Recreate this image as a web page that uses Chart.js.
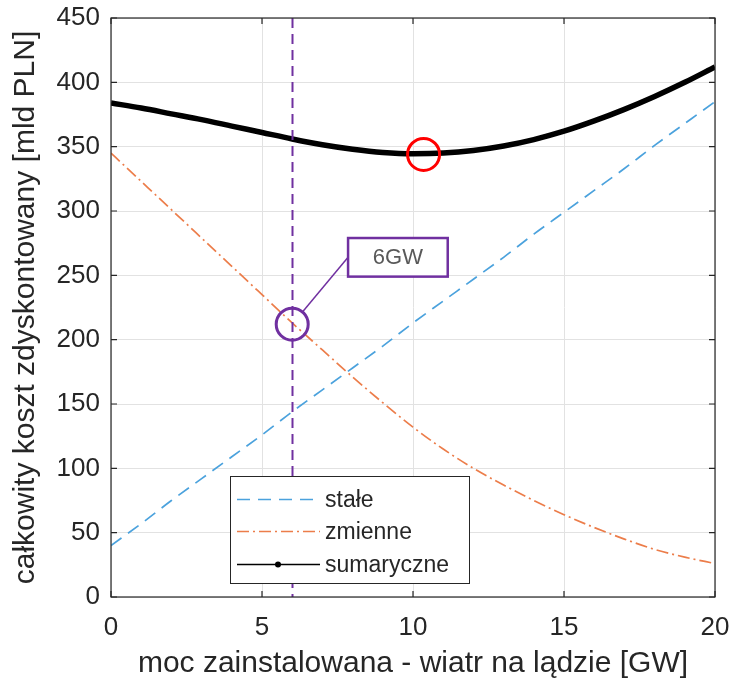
<!DOCTYPE html>
<html><head><meta charset="utf-8">
<script src="https://cdn.jsdelivr.net/npm/chart.js@4/dist/chart.umd.min.js"></script>
<style>html,body{margin:0;padding:0;background:#fff;}#wrap{width:732px;height:682px;position:relative;}</style>
</head><body><div id="wrap"><canvas id="c" width="732" height="682"></canvas></div>
<script>
// ---- data ----
const xValues = [0,1,2,3,4,5,6,7,8,9,10,11,12,13,14,15,16,17,18,19,20];
const xTicks = [0,5,10,15,20];
const yTicks = [0,50,100,150,200,250,300,350,400,450];
const staleValues = [40,57,75,92,109,126,144,161,178,195,213,230,247,264,282,299,316,333,351,368,385];
const zmienneValues = [345,323,301,279,257,235,213,192,171,151,132,115,100,87,75,64,54,45,37,31,26];
const sumaryczneValues = [384,380,375.5,371,366,361,356,351.5,348,345.5,344.5,345,347,350.5,355.5,362,370,379,389,400,412];
const seriesLabels = ['stałe','zmienne','sumaryczne'];
const xTitle = 'moc zainstalowana - wiatr na lądzie [GW]';
const yTitle = 'całkowity koszt zdyskontowany [mld PLN]';
const selectedCapacity = 6;
const selectedPoint = [6, 212];
const selectedLabel = '6GW';
const calloutBox = [7.85, 11.15, 249, 279]; // x0, x1, y0, y1 in data units
const minimumPoint = [10.35, 344];

const FONT = "'Liberation Sans', Arial, sans-serif";
const TXT = '#262626';
const styles = [
  {color:'#4ba2dd', dash:[13,8], width:1.7},
  {color:'#ec7d4a', dash:[12,4,2,4], width:1.7},
  {color:'#000000', dash:[], width:5.5}
];
const seriesValues = [staleValues, zmienneValues, sumaryczneValues];

const datasets = seriesValues.map((vals,i)=>({
  label: seriesLabels[i],
  data: xValues.map((x,k)=>({x:x,y:vals[k]})),
  borderColor: styles[i].color,
  borderDash: styles[i].dash,
  borderWidth: styles[i].width,
  pointRadius: 0,
  fill:false,
  cubicInterpolationMode:'monotone',
  order: 3-i
}));

const overlay = {
  id:'overlay',
  afterDatasetsDraw(chart){
    const ctx = chart.ctx, xs = chart.scales.x, ys = chart.scales.y, a = chart.chartArea;
    ctx.save();
    ctx.strokeStyle = '#7030a0'; ctx.lineWidth = 2; ctx.setLineDash([10,6]);
    const vx = Math.round(xs.getPixelForValue(selectedCapacity))+0.5;
    ctx.beginPath(); ctx.moveTo(vx,a.top); ctx.lineTo(vx,a.bottom); ctx.stroke();
    ctx.setLineDash([]);
    // legend
    const lx0 = a.left+119, ly0 = a.bottom-121, lw = 239, lh = 107;
    ctx.fillStyle = '#fff'; ctx.fillRect(lx0,ly0,lw,lh);
    ctx.strokeStyle = '#262626'; ctx.lineWidth = 1;
    ctx.strokeRect(lx0+0.5,ly0+0.5,lw,lh);
    const rowsY = [23,55,88];
    ctx.font = '23px '+FONT; ctx.textBaseline='middle'; ctx.textAlign='left';
    seriesLabels.forEach((lab,i)=>{
      const y = ly0+rowsY[i]+0.5;
      ctx.strokeStyle = styles[i].color; ctx.lineWidth = i===2?1.5:1.6;
      ctx.setLineDash(styles[i].dash);
      ctx.beginPath(); ctx.moveTo(lx0+7,y); ctx.lineTo(lx0+90,y); ctx.stroke();
      ctx.setLineDash([]);
      if(i===2){ ctx.fillStyle='#000'; ctx.beginPath(); ctx.arc(lx0+48,y,3,0,Math.PI*2); ctx.fill(); }
      ctx.fillStyle = TXT; ctx.fillText(lab, lx0+95, y+1);
    });
    // selected point circle
    const cx = xs.getPixelForValue(selectedPoint[0]), cy = ys.getPixelForValue(selectedPoint[1]);
    const r = 16;
    ctx.strokeStyle = '#7030a0'; ctx.lineWidth = 3;
    ctx.beginPath(); ctx.arc(cx,cy,r,0,Math.PI*2); ctx.stroke();
    // callout box
    const bx0 = xs.getPixelForValue(calloutBox[0]), bx1 = xs.getPixelForValue(calloutBox[1]);
    const by0 = ys.getPixelForValue(calloutBox[3]), by1 = ys.getPixelForValue(calloutBox[2]);
    const ax = bx0, ay = (by0+by1)/2;
    const ang = Math.atan2(ay-cy, ax-cx);
    ctx.lineWidth = 1.5;
    ctx.beginPath(); ctx.moveTo(ax,ay); ctx.lineTo(cx+Math.cos(ang)*r, cy+Math.sin(ang)*r); ctx.stroke();
    ctx.fillStyle='#fff'; ctx.fillRect(bx0,by0,bx1-bx0,by1-by0);
    ctx.lineWidth = 2.5; ctx.strokeRect(bx0,by0,bx1-bx0,by1-by0);
    ctx.fillStyle = '#595959'; ctx.font = '22px '+FONT; ctx.textAlign='center'; ctx.textBaseline='middle';
    ctx.fillText(selectedLabel, (bx0+bx1)/2, (by0+by1)/2+1);
    // minimum circle
    ctx.strokeStyle = '#ff0000'; ctx.lineWidth = 3;
    ctx.beginPath(); ctx.arc(xs.getPixelForValue(minimumPoint[0]), ys.getPixelForValue(minimumPoint[1]), 16, 0, Math.PI*2); ctx.stroke();
    // axes box + inward ticks
    ctx.strokeStyle = '#262626'; ctx.lineWidth = 1.2;
    ctx.strokeRect(a.left, a.top, a.right-a.left, a.bottom-a.top);
    ctx.beginPath();
    xTicks.forEach(t=>{ const p = xs.getPixelForValue(t);
      ctx.moveTo(p,a.bottom); ctx.lineTo(p,a.bottom-6); ctx.moveTo(p,a.top); ctx.lineTo(p,a.top+6); });
    yTicks.forEach(t=>{ const p = ys.getPixelForValue(t);
      ctx.moveTo(a.left,p); ctx.lineTo(a.left+6,p); ctx.moveTo(a.right,p); ctx.lineTo(a.right-6,p); });
    ctx.stroke();
    ctx.restore();
  }
};

function noPad(s){ s.paddingTop=0; s.paddingBottom=0; s.paddingLeft=0; s.paddingRight=0; }

new Chart(document.getElementById('c'), {
  type:'line',
  data:{datasets},
  options:{
    responsive:false, animation:false,
    layout:{padding:{top:18,right:17,bottom:0,left:0}, autoPadding:false},
    plugins:{legend:{display:false}, tooltip:{enabled:false}},
    scales:{
      x:{type:'linear', min:0, max:20,
        afterBuildTicks(s){ s.ticks = xTicks.map(v=>({value:v})); },
        afterFit(s){ s.height = 85; noPad(s); },
        grid:{color:'#e2e2e2', lineWidth:1, drawTicks:false},
        border:{display:false},
        ticks:{color:TXT, font:{family:FONT,size:26}, padding:15, maxRotation:0, autoSkip:false},
        title:{display:true, text:xTitle, color:TXT, font:{family:FONT,size:30}, padding:{top:0,bottom:0}}
      },
      y:{type:'linear', min:0, max:450,
        afterBuildTicks(s){ s.ticks = yTicks.map(v=>({value:v})); },
        afterFit(s){ s.width = 111; noPad(s); },
        grid:{color:'#e2e2e2', lineWidth:1, drawTicks:false},
        border:{display:false},
        ticks:{color:TXT, font:{family:FONT,size:26}, padding:11, autoSkip:false},
        title:{display:true, text:yTitle, color:TXT, font:{family:FONT,size:30}, padding:{top:8,bottom:0}}
      }
    }
  },
  plugins:[overlay]
});
</script></body></html>
